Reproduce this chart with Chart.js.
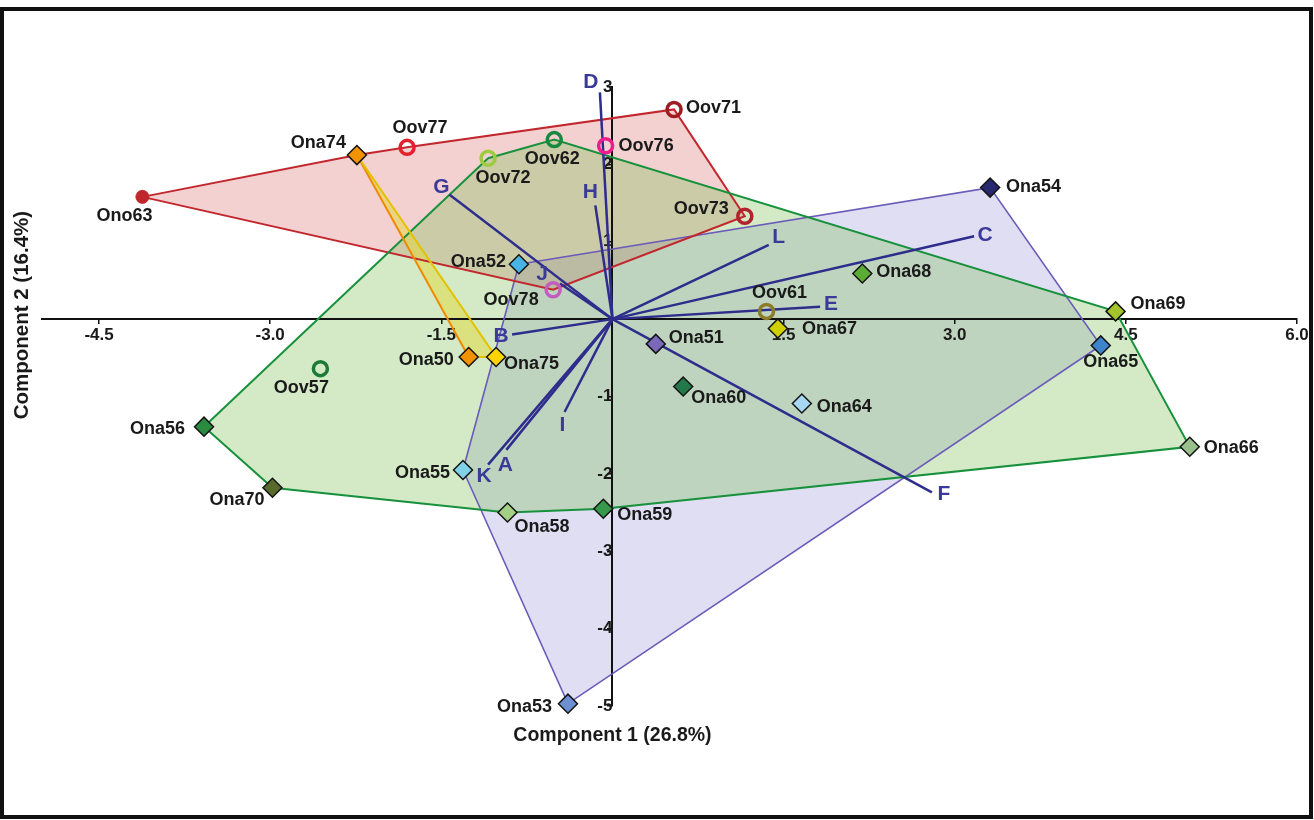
<!DOCTYPE html>
<html>
<head>
<meta charset="utf-8">
<title>PCA biplot</title>
<script src="https://cdn.jsdelivr.net/npm/chart.js@4.4.1/dist/chart.umd.min.js"></script>
<style>
  html, body { margin: 0; padding: 0; background: #fff; }
  #frame {
    position: absolute; left: 0; top: 7px; width: 1313px; height: 812px;
    box-sizing: border-box; border: 4px solid #111;
  }
  #wrap { position: absolute; left: 0; top: 0; width: 1314px; height: 820px; }
</style>
</head>
<body>
<div id="frame"></div>
<div id="wrap"><canvas id="biplot" width="1314" height="820"></canvas></div>
<script>
// ============================================
// Data
// ============================================

const sampleNames = ['Ono63', 'Ona74', 'Oov77', 'Oov72', 'Oov62', 'Oov76', 'Oov71', 'Oov73',
  'Ona54', 'Ona52', 'Oov78', 'Oov61', 'Ona68', 'Ona69', 'Ona67', 'Ona51', 'Ona65', 'Ona50',
  'Ona75', 'Oov57', 'Ona60', 'Ona64', 'Ona56', 'Ona66', 'Ona55', 'Ona70', 'Ona58', 'Ona59', 'Ona53'];
const pc1 = [-4.12, -2.24, -1.80, -1.09, -0.51, -0.06, 0.54, 1.16,
  3.31, -0.82, -0.52, 1.35, 2.19, 4.41, 1.45, 0.38, 4.28, -1.26,
  -1.02, -2.56, 0.62, 1.66, -3.58, 5.06, -1.31, -2.98, -0.92, -0.08, -0.39];
const pc2 = [1.58, 2.12, 2.22, 2.08, 2.32, 2.24, 2.71, 1.33,
  1.70, 0.71, 0.38, 0.10, 0.59, 0.10, -0.12, -0.32, -0.34, -0.49,
  -0.49, -0.64, -0.87, -1.09, -1.39, -1.65, -1.95, -2.18, -2.50, -2.45, -4.97];

// variable loadings (biplot vectors)
const varNames = ['A', 'B', 'C', 'D', 'E', 'F', 'G', 'H', 'I', 'J', 'K', 'L'];
const load1 = [-0.93, -0.88, 3.17, -0.11, 1.82, 2.80, -1.43, -0.15, -0.42, -0.46, -1.09, 1.37];
const load2 = [-1.69, -0.20, 1.07, 2.93, 0.16, -2.24, 1.61, 1.47, -1.20, 0.46, -1.88, 0.96];

// convex hulls (vertex order)
const hullPurple = ['Ona52', 'Ona54', 'Ona65', 'Ona53', 'Ona55'];
const hullGreen = ['Oov72', 'Oov62', 'Ona69', 'Ona66', 'Ona59', 'Ona58', 'Ona70', 'Ona56'];
const hullRed = ['Ono63', 'Ona74', 'Oov77', 'Oov71', 'Oov73', 'Oov78'];
const hullYellow = ['Ona74', 'Ona50', 'Ona75'];

const xTicks = [-4.5, -3.0, -1.5, 1.5, 3.0, 4.5, 6.0];
const yTicks = [3, 2, 1, -1, -2, -3, -4, -5];

// ============================================
// Styles
// ============================================

const FONT = '"Liberation Sans", Arial, Helvetica, sans-serif';
const VECTOR_COLOR = '#2e2d8c';
const LETTER_COLOR = '#3b3a98';

const sampleColors = {
  Ono63: '#c0272d', Ona74: '#f39200', Oov77: '#e4202e', Oov72: '#9ccb3b', Oov62: '#17893e',
  Oov76: '#ec1c8c', Oov71: '#9e1b20', Oov73: '#b1232a', Ona54: '#27286e', Ona52: '#48b4e6',
  Oov78: '#c55bbf', Oov61: '#8c7b2a', Ona68: '#5bab36', Ona69: '#a3c52b', Ona67: '#d0d000',
  Ona51: '#7a68bb', Ona65: '#3d84cc', Ona50: '#f39200', Ona75: '#ffd400', Oov57: '#1c7a36',
  Ona60: '#23784a', Ona64: '#a6d8f2', Ona56: '#2a8a40', Ona66: '#98bf8c', Ona55: '#80d0e6',
  Ona70: '#586b2c', Ona58: '#a5cf84', Ona59: '#36984a', Ona53: '#6d90d2'
};

// label offset from marker in px: [dx, dy, align]
const sampleLabelPos = {
  Ono63: [-18, 19, 'c'], Ona74: [-11, -12, 'r'], Oov77: [13, -19, 'c'], Oov72: [15, 20, 'c'],
  Oov62: [-2, 19, 'c'], Oov76: [13, 0, 'l'], Oov71: [12, -1, 'l'], Oov73: [-16, -7, 'r'],
  Ona54: [16, -1, 'l'], Ona52: [-13, -2, 'r'], Oov78: [-42, 10, 'c'], Oov61: [13, -18, 'c'],
  Ona68: [14, -1, 'l'], Ona69: [15, -7, 'l'], Ona67: [24, 1, 'l'], Ona51: [13, -6, 'l'],
  Ona65: [10, 17, 'c'], Ona50: [-15, 3, 'r'], Ona75: [8, 7, 'l'], Oov57: [-19, 19, 'c'],
  Ona60: [8, 12, 'l'], Ona64: [15, 4, 'l'], Ona56: [-19, 2, 'r'], Ona66: [14, 1, 'l'],
  Ona55: [-13, 3, 'r'], Ona70: [-8, 12, 'r'], Ona58: [7, 14, 'l'], Ona59: [14, 6, 'l'],
  Ona53: [-16, 3, 'r']
};

const varLabelPos = {
  A: [-1, 15], B: [-11, 2], C: [11, -1], D: [-9, -10], E: [11, -3], F: [12, 2],
  G: [-8, -7], H: [-5, -13], I: [-2, 13], J: [-18, -9], K: [-4, 12], L: [10, -8]
};

const ALIGN = { l: 'left', r: 'right', c: 'center' };

// ============================================
// Helpers
// ============================================

function pointOf(name) {
  const i = sampleNames.indexOf(name);
  return { x: pc1[i], y: pc2[i] };
}

function hullData(names) {
  const pts = names.map(pointOf);
  pts.push(pts[0]); // close the outline
  return pts;
}

function hullDataset(names, fillColor, lineColor, width, order) {
  return {
    data: hullData(names),
    showLine: true,
    fill: 'shape',
    backgroundColor: fillColor,
    borderColor: lineColor,
    borderWidth: width,
    pointRadius: 0,
    tension: 0,
    order
  };
}

const markerStyle = name => name.startsWith('Ona') ? 'rectRot' : 'circle';

// ============================================
// Datasets
// ============================================

const datasets = [];

// sample markers on top
datasets.push({
  data: sampleNames.map(pointOf),
  order: 0,
  clip: false,
  pointStyle: sampleNames.map(markerStyle),
  pointRadius: sampleNames.map(n => n.startsWith('Ona') ? 9.5 : (n.startsWith('Oov') ? 7 : 6.5)),
  pointBackgroundColor: sampleNames.map(n => n.startsWith('Oov') ? 'rgba(255,255,255,0)' : sampleColors[n]),
  pointBorderColor: sampleNames.map(n => n.startsWith('Ona') ? '#141414' : sampleColors[n]),
  pointBorderWidth: sampleNames.map(n => n.startsWith('Ona') ? 1.5 : (n.startsWith('Oov') ? 3.5 : 1)),
  showLine: false
});

// loading vectors
varNames.forEach((v, i) => {
  datasets.push({
    data: [{ x: 0, y: 0 }, { x: load1[i], y: load2[i] }],
    showLine: true,
    borderColor: VECTOR_COLOR,
    borderWidth: 2.5,
    pointRadius: 0,
    order: 1
  });
});

// hulls (fills are painted before the axes, outlines with the datasets)
const yellowHull = hullDataset(hullYellow, 'rgba(228, 214, 40, 0.45)', '#e2c200', 2, 2);
yellowHull.segment = {
  borderColor: c => c.p0DataIndex === 0 ? '#ef8a00' : '#e2c200'
};
datasets.push(yellowHull);
datasets.push(hullDataset(hullGreen, 'rgba(125, 192, 85, 0.33)', '#17913c', 2, 3));
datasets.push(hullDataset(hullRed, 'rgba(200, 45, 45, 0.22)', '#c1272d', 2, 4));
datasets.push(hullDataset(hullPurple, 'rgba(110, 100, 200, 0.21)', '#6a5cb8', 1.6, 5));

// ============================================
// Label plugin
// ============================================

const labelPlugin = {
  id: 'biplotLabels',
  afterDatasetsDraw(chart) {
    const { ctx, scales: { x, y } } = chart;
    ctx.save();
    ctx.textBaseline = 'middle';

    // vector letters
    ctx.font = 'bold 21px ' + FONT;
    ctx.fillStyle = LETTER_COLOR;
    ctx.textAlign = 'center';
    varNames.forEach((v, i) => {
      const [dx, dy] = varLabelPos[v];
      ctx.fillText(v, x.getPixelForValue(load1[i]) + dx, y.getPixelForValue(load2[i]) + dy);
    });

    // sample names
    ctx.font = 'bold 18px ' + FONT;
    ctx.fillStyle = '#1a1a1a';
    sampleNames.forEach((n, i) => {
      const [dx, dy, al] = sampleLabelPos[n];
      ctx.textAlign = ALIGN[al];
      ctx.fillText(n, x.getPixelForValue(pc1[i]) + dx, y.getPixelForValue(pc2[i]) + dy);
    });

    // axis titles
    ctx.textAlign = 'center';
    ctx.font = 'bold 19.5px ' + FONT;
    ctx.fillText('Component 1 (26.8%)', x.getPixelForValue(0), chart.chartArea.bottom + 30);
    ctx.font = 'bold 20.5px ' + FONT;
    ctx.translate(22, y.getPixelForValue(0) - 4);
    ctx.rotate(-Math.PI / 2);
    ctx.fillText('Component 2 (16.4%)', 0, 0);
    ctx.restore();
  }
};

// ============================================
// Chart
// ============================================

const axisCommon = {
  type: 'linear',
  border: { display: true, color: '#111', width: 2 },
  grid: { display: true, drawOnChartArea: false, drawTicks: true, tickLength: 4, color: '#111', lineWidth: 1.5 },
  ticks: {
    autoSkip: false,
    maxRotation: 0,
    color: '#1a1a1a',
    padding: 2,
    font: { family: FONT, size: 17, weight: 'bold' }
  }
};

new Chart(document.getElementById('biplot'), {
  type: 'scatter',
  data: { datasets },
  options: {
    responsive: false,
    animation: false,
    layout: { padding: { left: 42, right: 17, top: 87, bottom: 114 } },
    plugins: {
      legend: { display: false },
      tooltip: { enabled: false },
      filler: { drawTime: 'beforeDraw' }
    },
    scales: {
      x: {
        ...axisCommon,
        min: -5,
        max: 6,
        position: { y: 0 },
        afterBuildTicks: s => { s.ticks = xTicks.map(v => ({ value: v })); },
        ticks: { ...axisCommon.ticks, callback: v => v.toFixed(1) }
      },
      y: {
        ...axisCommon,
        min: -5,
        max: 3,
        position: { x: 0 },
        afterBuildTicks: s => { s.ticks = yTicks.map(v => ({ value: v })); },
        ticks: { ...axisCommon.ticks, callback: v => String(v) }
      }
    }
  },
  plugins: [labelPlugin]
});
</script>
</body>
</html>
